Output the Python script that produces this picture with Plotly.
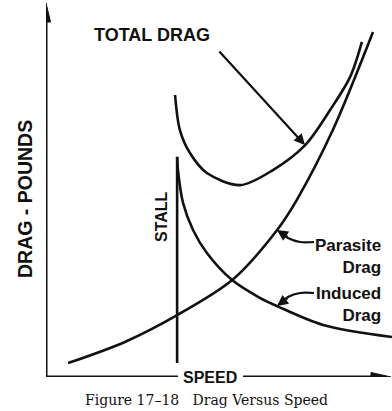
import plotly.graph_objects as go

# ---- data (arbitrary units: speed 0-100, drag 0-100) ----
parasite_speed = [6.4, 22.8, 37.9, 53.8, 66.8, 72.5, 82.9, 94.5]
parasite_drag = [3.7, 9.3, 16.4, 25.7, 39.0, 47.0, 65.5, 91.5]

induced_speed = [37.9, 38.2, 39.6, 42.5, 46.5, 53.8, 61.8, 66.8, 80.1, 100.0]
induced_drag = [58.4, 54.4, 46.2, 39.0, 32.9, 25.7, 21.0, 18.8, 13.8, 10.6]

total_speed = [37.3, 38.7, 41.6, 46.5, 56.1, 65.6, 74.9, 82.1, 87.9, 91.3]
total_drag = [74.8, 65.5, 59.4, 54.1, 50.9, 54.9, 61.5, 70.8, 79.6, 88.9]

stall_speed = [37.9, 37.9]
stall_drag = [3.7, 58.4]

labels = {
    "total": "TOTAL DRAG",
    "stall": "STALL",
    "parasite": "Parasite<br>Drag",
    "induced": "Induced<br>Drag",
    "x": "SPEED",
    "y": "DRAG - POUNDS",
    "caption": "Figure 17\u201318\u00a0\u00a0 Drag Versus Speed",
}

W, H = 392, 411
ML, MR, MT, MB = 46, 0, 0, 34
PW, PH = W - ML - MR, H - MT - MB
XR, YR = 100.0, 100.0


def sx(px):
    return (px - ML) / PW * XR


def sy(py):
    return (MT + PH - py) / PH * YR


SANS = "Liberation Sans, Arial, sans-serif"
SERIF = "DejaVu Serif, serif"
LW = 2.6
BLACK = "#111"

fig = go.Figure()
for xs, ys in [(parasite_speed, parasite_drag), (induced_speed, induced_drag),
               (total_speed, total_drag)]:
    fig.add_trace(go.Scatter(x=xs, y=ys, mode="lines",
                             line=dict(color=BLACK, width=LW, shape="spline", smoothing=0.9),
                             hoverinfo="skip", showlegend=False))
fig.add_trace(go.Scatter(x=stall_speed, y=stall_drag, mode="lines",
                         line=dict(color=BLACK, width=LW), hoverinfo="skip", showlegend=False))

# leader lines for Parasite / Induced labels
fig.add_trace(go.Scatter(x=[sx(314), sx(300), sx(288), sx(279)],
                         y=[sy(242), sy(242), sy(238), sy(231.5)], mode="lines",
                         line=dict(color=BLACK, width=2.2, shape="spline"),
                         hoverinfo="skip", showlegend=False))
fig.add_trace(go.Scatter(x=[sx(314), sx(300), sx(288), sx(279)],
                         y=[sy(293), sy(293), sy(297), sy(304.5)], mode="lines",
                         line=dict(color=BLACK, width=2.2, shape="spline"),
                         hoverinfo="skip", showlegend=False))

# axes lines
fig.add_shape(type="line", x0=sx(46), y0=sy(378.5), x1=sx(46), y1=sy(20),
              line=dict(color=BLACK, width=3))
fig.add_shape(type="line", x0=sx(44.5), y0=sy(377), x1=sx(178), y1=sy(377),
              line=dict(color=BLACK, width=3))
fig.add_shape(type="line", x0=sx(243), y0=sy(377), x1=sx(375), y1=sy(377),
              line=dict(color=BLACK, width=3))
# arrow heads (pixel-sized)
fig.add_shape(type="path", xsizemode="pixel", ysizemode="pixel",
              xanchor=sx(46), yanchor=sy(3), path="M0,0 L-4.5,-19 L4.5,-19 Z",
              fillcolor=BLACK, line=dict(color=BLACK, width=1))
fig.add_shape(type="path", xsizemode="pixel", ysizemode="pixel",
              xanchor=sx(391), yanchor=sy(377), path="M0,0 L-20,4.5 L-20,-4.5 Z",
              fillcolor=BLACK, line=dict(color=BLACK, width=1))


def label(**kw):
    d = dict(showarrow=False, xanchor="center", yanchor="middle")
    d.update(kw)
    return d


ann = []
ann.append(label(x=sx(152), y=sy(35), text=labels["total"],
                 font=dict(family=SANS, size=18, color=BLACK, weight="bold")))
ann.append(dict(x=sx(305), y=sy(145), ax=sx(218), ay=sy(50), axref="x", ayref="y",
                text="", showarrow=True, arrowhead=2, arrowsize=1, arrowwidth=2.2,
                arrowcolor=BLACK))
ann.append(dict(x=sx(277), y=sy(230), ax=12, ay=8, text="", showarrow=True,
                arrowhead=2, arrowsize=1, arrowwidth=2.2, arrowcolor=BLACK))
ann.append(dict(x=sx(277), y=sy(306), ax=12, ay=-9, text="", showarrow=True,
                arrowhead=2, arrowsize=1, arrowwidth=2.2, arrowcolor=BLACK))
ann.append(label(x=sx(161), y=sy(217), text=labels["stall"], textangle=-90,
                 font=dict(family=SANS, size=16, color=BLACK, weight="bold")))
ann.append(label(x=sx(383), y=sy(256), text=labels["parasite"],
                 xanchor="right", align="right",
                 font=dict(family=SANS, size=17, color=BLACK, weight="bold")))
ann.append(label(x=sx(383), y=sy(304), text=labels["induced"],
                 xanchor="right", align="right",
                 font=dict(family=SANS, size=17, color=BLACK, weight="bold")))
ann.append(label(x=sx(210), y=sy(377), text=labels["x"], borderpad=0,
                 font=dict(family=SANS, size=16, color=BLACK, weight="bold")))
ann.append(label(xref="paper", yref="paper", x=(25 - ML) / PW, y=(MT + PH - 199) / PH,
                 text=labels["y"], textangle=-90,
                 font=dict(family=SANS, size=19.5, color=BLACK, weight="bold")))
ann.append(label(xref="paper", yref="paper", x=(206 - ML) / PW, y=(MT + PH - 400) / PH,
                 text=labels["caption"], borderpad=0,
                 font=dict(family=SERIF, size=14, color=BLACK)))

fig.update_layout(
    width=W, height=H, autosize=False,
    margin=dict(l=ML, r=MR, t=MT, b=MB, pad=0),
    paper_bgcolor="white", plot_bgcolor="white",
    xaxis=dict(range=[0, XR], visible=False, fixedrange=True),
    yaxis=dict(range=[0, YR], visible=False, fixedrange=True),
    annotations=ann, showlegend=False,
)
fig.write_html("out.html", config={"displayModeBar": False},
               post_script="document.body.style.margin='0';document.body.style.overflow='hidden';")
